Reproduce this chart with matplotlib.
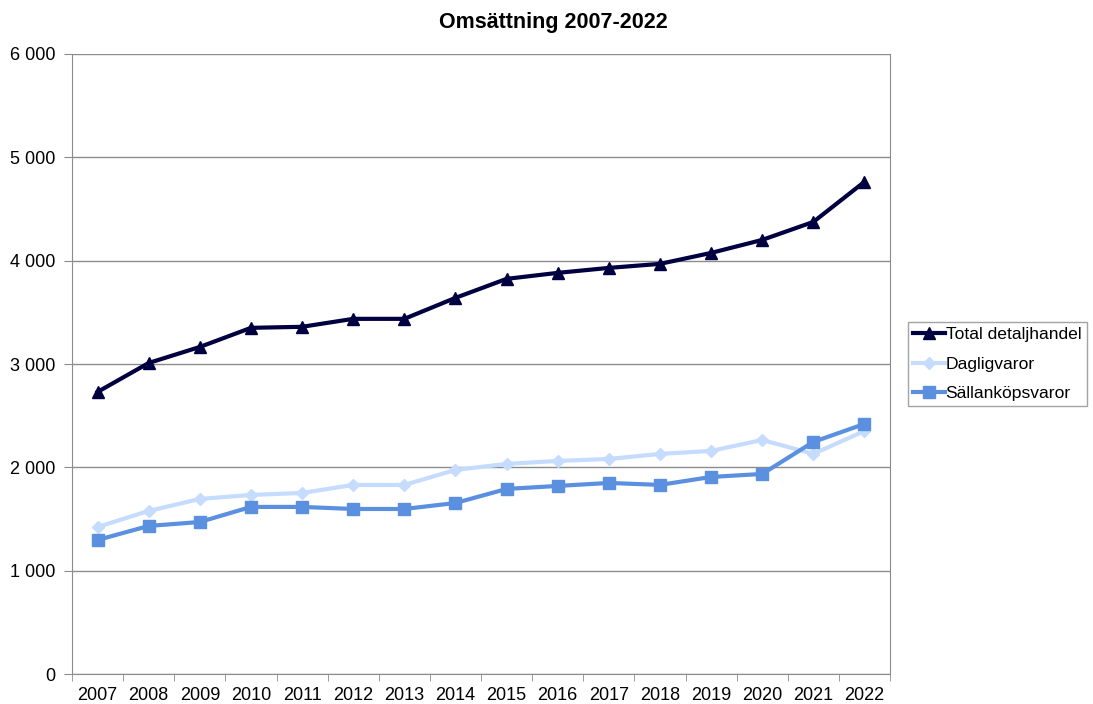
import matplotlib
matplotlib.use('Agg')
from matplotlib import pyplot as plt
from matplotlib.ticker import FuncFormatter, FixedLocator
import numpy as np

plt.rcParams['font.family'] = ['Liberation Sans', 'DejaVu Sans']

years = [str(y) for y in range(2007, 2023)]
total = [2730, 3010, 3165, 3350, 3360, 3437, 3437, 3640, 3824, 3882, 3930, 3969, 4075, 4201, 4375, 4763]
dagligvaror = [1423, 1578, 1694, 1733, 1752, 1830, 1830, 1975, 2033, 2062, 2081, 2130, 2159, 2265, 2130, 2352]
sallankop = [1297, 1433, 1471, 1617, 1617, 1597, 1597, 1655, 1791, 1820, 1849, 1830, 1907, 1936, 2246, 2420]

fig = plt.figure(figsize=(10.93, 7.04), dpi=100)
ax = fig.add_axes([0.0659, 0.0426, 0.7484, 0.8807])

x = np.arange(len(years))
ax.plot(x, total, color='#000040', lw=3, marker='^', ms=9, label='Total detaljhandel', zorder=4)
ax.plot(x, dagligvaror, color='#C5DCFF', lw=3, marker='D', ms=6.5, label='Dagligvaror', zorder=3)
ax.plot(x, sallankop, color='#5B8FE0', lw=3, marker='s', ms=9, label='Sällanköpsvaror', zorder=3)

ax.set_xlim(-0.5, len(years) - 0.5)
ax.set_ylim(0, 6000)
ax.set_yticks(range(0, 6001, 1000))
ax.yaxis.set_major_formatter(FuncFormatter(lambda v, p: f'{int(v):,}'.replace(',', ' ')))
ax.grid(axis='y', color='#8c8c8c', lw=1)
ax.set_axisbelow(True)

# years as labels at the category centres, ticks between categories
ax.set_xticks(x)
ax.set_xticklabels(years)
ax.xaxis.set_minor_locator(FixedLocator(np.arange(-0.5, len(years), 1)))
ax.tick_params(axis='x', which='major', length=0, pad=9, labelsize=13)
ax.tick_params(axis='x', which='minor', length=5, color='#8c8c8c')
ax.tick_params(axis='y', length=6, color='#8c8c8c', labelsize=13, pad=6)

for s in ['left', 'bottom', 'right']:
    ax.spines[s].set_color('#8c8c8c')
ax.spines['top'].set_visible(False)

fig.text(0.506, 0.968, 'Omsättning 2007-2022', fontsize=15.5, fontweight='bold',
         ha='center', va='center')

leg = ax.legend(loc='center left', bbox_to_anchor=(1.022, 0.5), fontsize=12.6, frameon=True,
                fancybox=False, edgecolor='#8c8c8c', handlelength=1.8, handletextpad=0.05,
                borderpad=0.3, labelspacing=0.8, borderaxespad=0)
leg.get_frame().set_linewidth(1)

plt.savefig('out.png', dpi=100)
